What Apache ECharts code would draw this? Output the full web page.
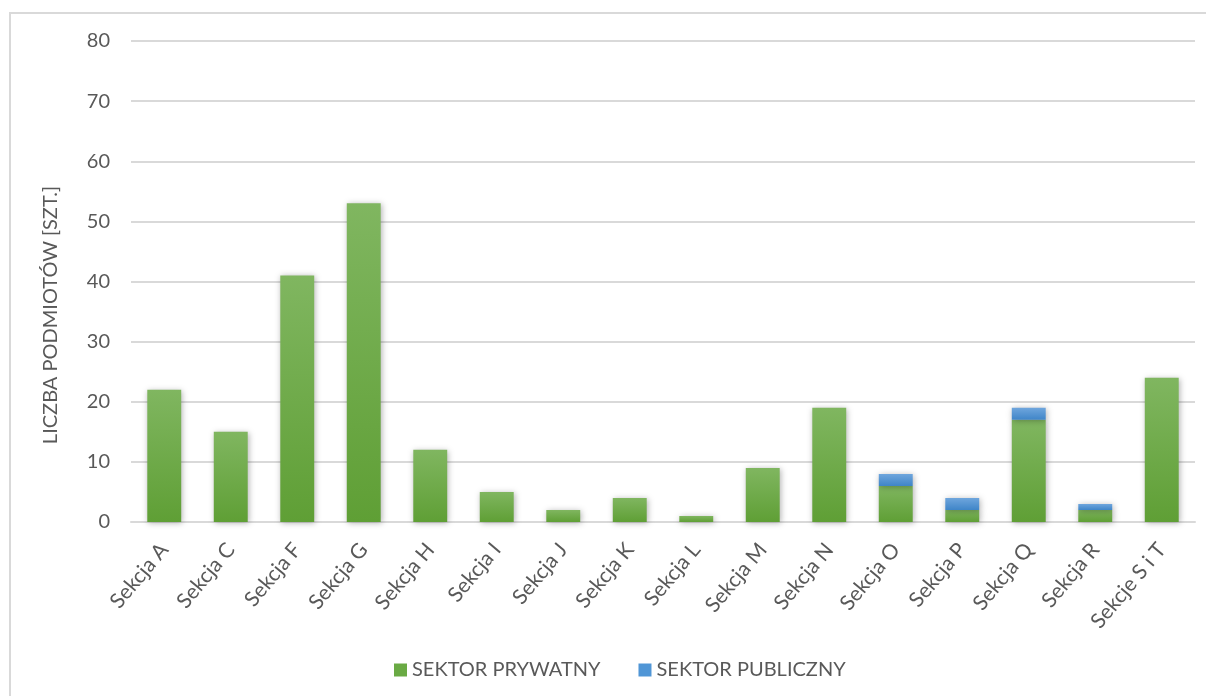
<!DOCTYPE html>
<html><head><meta charset="utf-8">
<script src="https://cdn.jsdelivr.net/npm/echarts@6/dist/echarts.min.js"></script>
<style>html,body{margin:0;padding:0;background:#fff}#c{width:1206px;height:696px}</style>
</head><body><div id="c"></div>
<script>
const categories = ['Sekcja A','Sekcja C','Sekcja F','Sekcja G','Sekcja H','Sekcja I','Sekcja J','Sekcja K','Sekcja L','Sekcja M','Sekcja N','Sekcja O','Sekcja P','Sekcja Q','Sekcja R','Sekcje S i T'];
const prywatny = [22,15,41,53,12,5,2,4,1,9,19,6,2,17,2,24];
const publiczny = [0,0,0,0,0,0,0,0,0,0,0,2,2,2,1,0];
const yTicks = [0,10,20,30,40,50,60,70,80];

const FONT = 'Lato, "Open Sans", sans-serif';
const green = new echarts.graphic.LinearGradient(0,0,0,1,[{offset:0,color:'#80b660'},{offset:1,color:'#5f9f35'}]);
const blue = new echarts.graphic.LinearGradient(0,0,0,1,[{offset:0,color:'#6fa6dd'},{offset:1,color:'#3f85c8'}]);
const shadow = {shadowColor:'rgba(0,0,0,0.3)',shadowBlur:6,shadowOffsetX:1,shadowOffsetY:1};

const chart = echarts.init(document.getElementById('c'));
chart.setOption({
  animation:false,
  backgroundColor:'#fff',
  grid:{left:131,right:11,top:41,bottom:174},
  legend:{
    top:655,left:389,itemWidth:13,itemHeight:13,itemGap:38,icon:'rect',
    textStyle:{fontFamily:FONT,fontSize:20,color:'#595959'},
    data:[{name:'SEKTOR PRYWATNY',itemStyle:{color:'#6aaa44'}},{name:'SEKTOR PUBLICZNY',itemStyle:{color:'#5096d6'}}]
  },
  xAxis:{
    type:'category',data:categories,
    axisLine:{lineStyle:{color:'#d9d9d9',width:2}},
    axisTick:{show:false},
    axisLabel:{rotate:50,interval:0,fontFamily:FONT,fontSize:21,color:'#595959',margin:24}
  },
  yAxis:{
    type:'value',min:yTicks[0],max:yTicks[yTicks.length-1],interval:10,
    axisLine:{show:false},axisTick:{show:false},
    splitLine:{lineStyle:{color:'#d9d9d9',width:2}},
    axisLabel:{fontFamily:FONT,fontSize:20,color:'#595959',margin:21}
  },
  graphic:[
    {type:'rect',shape:{x:10,y:13,width:1400,height:900},style:{fill:'none',stroke:'#d9d9d9',lineWidth:2},silent:true},
    {type:'text',x:51,y:315,rotation:Math.PI/2,style:{text:'LICZBA PODMIOTÓW [SZT.]',font:'20px '+FONT,fill:'#595959',align:'center',verticalAlign:'middle'}}
  ],
  series:[
    {name:'SEKTOR PRYWATNY',type:'bar',stack:'s',barWidth:'51%',data:prywatny,itemStyle:Object.assign({color:green},shadow)},
    {name:'SEKTOR PUBLICZNY',type:'bar',stack:'s',barWidth:'51%',data:publiczny,itemStyle:Object.assign({color:blue},shadow)}
  ]
});
</script></body></html>
